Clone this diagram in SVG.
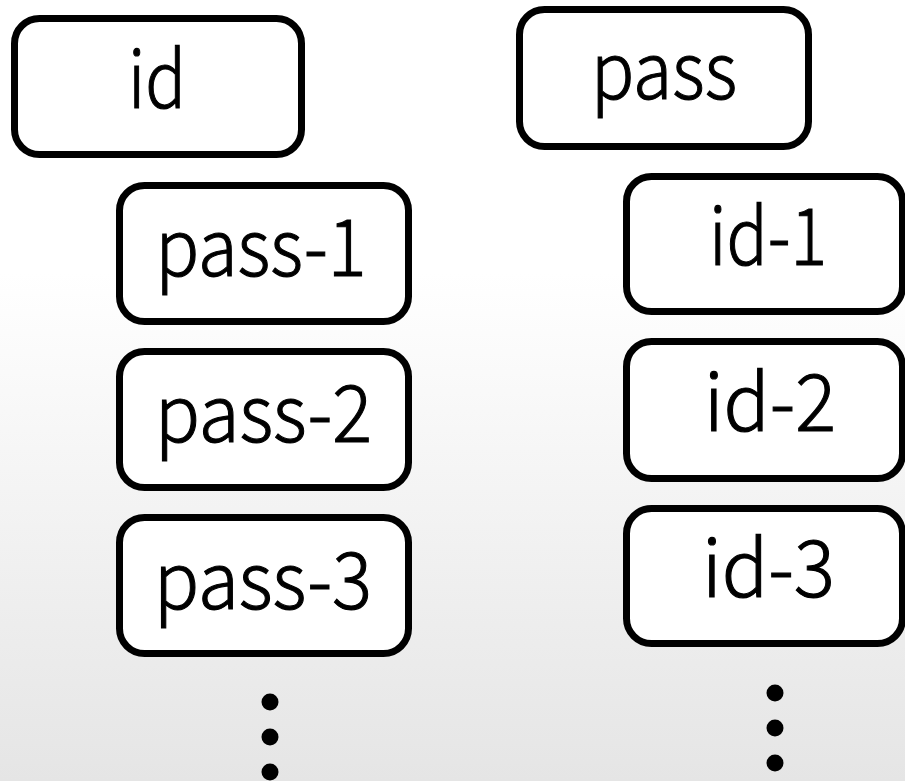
<svg xmlns="http://www.w3.org/2000/svg" width="905" height="781" viewBox="0 0 905 781">
<defs>
<linearGradient id="bg" x1="0" y1="0" x2="0" y2="781" gradientUnits="userSpaceOnUse">
<stop offset="0.35" stop-color="#ffffff"/>
<stop offset="1" stop-color="#e5e5e5"/>
</linearGradient>
<style>
.box{fill:#ffffff;stroke:#000000;stroke-width:7}
.lbl{font-family:"Noto Sans CJK KR","Noto Sans",sans-serif;font-size:79px;font-weight:300;fill:#000000;stroke:#000000;stroke-width:1.1;text-anchor:middle}
.dot{fill:#000000}
</style>
</defs>
<rect x="0" y="0" width="905" height="781" fill="url(#bg)"/>
<g id="connectors"/>
<g id="node-id"><rect class="box" x="14.5" y="18.5" width="287" height="136" rx="25"/><text class="lbl" x="157" y="108" textLength="58" lengthAdjust="spacingAndGlyphs">id</text></g>
<g id="node-pass"><rect class="box" x="519.5" y="9.5" width="289" height="137" rx="25"/><text class="lbl" x="664" y="99" textLength="146" lengthAdjust="spacingAndGlyphs">pass</text></g>
<g id="node-pass-1"><rect class="box" x="119.5" y="185.5" width="289" height="136" rx="25"/><text class="lbl" x="261" y="276" textLength="211" lengthAdjust="spacingAndGlyphs">pass-1</text></g>
<g id="node-pass-2"><rect class="box" x="119.5" y="351.5" width="289" height="136" rx="25"/><text class="lbl" x="263.5" y="442" textLength="217" lengthAdjust="spacingAndGlyphs">pass-2</text></g>
<g id="node-pass-3"><rect class="box" x="119.5" y="517.5" width="289" height="136" rx="25"/><text class="lbl" x="263" y="609" textLength="218" lengthAdjust="spacingAndGlyphs">pass-3</text></g>
<g id="node-id-1"><rect class="box" x="626.5" y="176.5" width="276" height="135" rx="25"/><text class="lbl" x="768" y="265" textLength="118" lengthAdjust="spacingAndGlyphs">id-1</text></g>
<g id="node-id-2"><rect class="box" x="626.5" y="341.5" width="276" height="137" rx="25"/><text class="lbl" x="770" y="431" textLength="132" lengthAdjust="spacingAndGlyphs">id-2</text></g>
<g id="node-id-3"><rect class="box" x="626.5" y="508.5" width="276" height="135" rx="25"/><text class="lbl" x="768.5" y="597" textLength="133" lengthAdjust="spacingAndGlyphs">id-3</text></g>
<g id="dots-left"><circle class="dot" cx="270" cy="702" r="8.5"/><circle class="dot" cx="270" cy="737" r="8.5"/><circle class="dot" cx="270" cy="772" r="8.5"/></g>
<g id="dots-right"><circle class="dot" cx="775" cy="693" r="8.5"/><circle class="dot" cx="775" cy="728" r="8.5"/><circle class="dot" cx="775" cy="763" r="8.5"/></g>
</svg>
